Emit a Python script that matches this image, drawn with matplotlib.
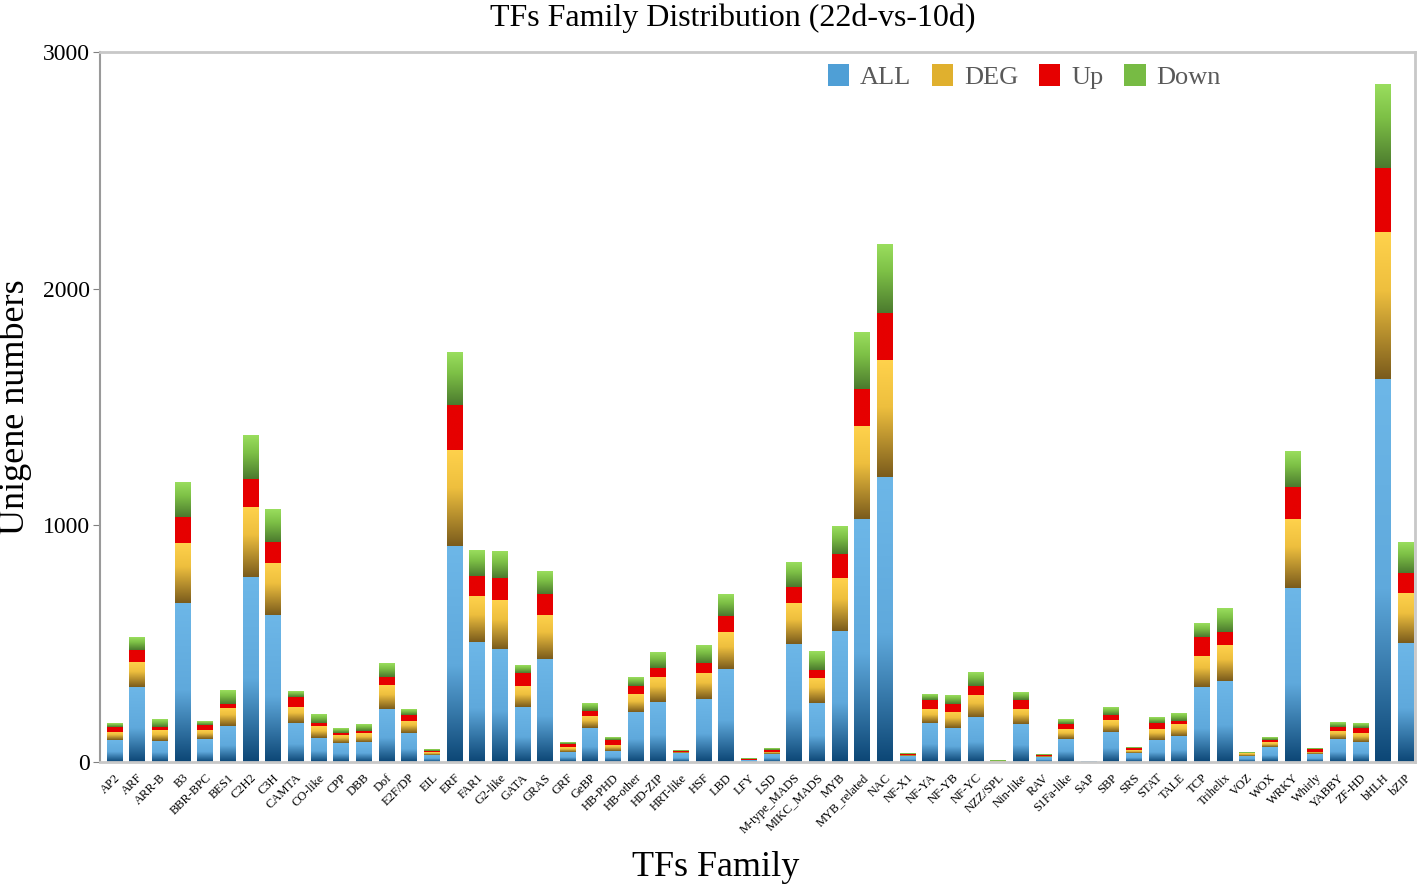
import numpy as np
import matplotlib
matplotlib.use("Agg")
from matplotlib import pyplot as plt
from matplotlib.colors import LinearSegmentedColormap
from matplotlib.patches import Patch

plt.rcParams['font.family'] = ['Liberation Serif', 'DejaVu Serif']

families = ["AP2", "ARF", "ARR-B", "B3", "BBR-BPC", "BES1", "C2H2", "C3H", "CAMTA", "CO-like",
            "CPP", "DBB", "Dof", "E2F/DP", "EIL", "ERF", "FAR1", "G2-like", "GATA", "GRAS",
            "GRF", "GeBP", "HB-PHD", "HB-other", "HD-ZIP", "HRT-like", "HSF", "LBD", "LFY", "LSD",
            "M-type_MADS", "MIKC_MADS", "MYB", "MYB_related", "NAC", "NF-X1", "NF-YA", "NF-YB", "NF-YC", "NZZ/SPL",
            "Nin-like", "RAV", "S1Fa-like", "SAP", "SBP", "SRS", "STAT", "TALE", "TCP", "Trihelix",
            "VOZ", "WOX", "WRKY", "Whirly", "YABBY", "ZF-HD", "bHLH", "bZIP"]

all_cnt = [93, 318, 90, 673, 96, 153, 783, 621, 166, 103,
           79, 83, 225, 121, 30, 912, 507, 479, 234, 435,
           44, 142, 46, 213, 255, 37, 265, 392, 7, 35,
           498, 248, 554, 1027, 1203, 25, 166, 145, 190, 2,
           159, 20, 99, 3, 127, 39, 92, 110, 316, 344,
           27, 62, 736, 32, 96, 84, 1618, 504]
deg_cnt = [35, 106, 45, 254, 39, 77, 296, 221, 68, 49,
           35, 38, 99, 52, 11, 406, 194, 205, 87, 186,
           18, 54, 26, 73, 106, 5, 112, 156, 3, 9,
           172, 109, 224, 392, 494, 5, 59, 68, 93, 1,
           66, 5, 39, 0, 50, 12, 49, 50, 132, 150,
           10, 21, 289, 12, 36, 40, 621, 211]
up_cnt = [21, 49, 14, 109, 21, 14, 118, 89, 42, 11,
          10, 10, 37, 26, 5, 190, 85, 95, 54, 89,
          14, 19, 21, 36, 37, 3, 40, 70, 1, 7,
          68, 32, 101, 159, 202, 4, 37, 31, 39, 0,
          37, 5, 24, 0, 20, 7, 25, 13, 79, 55,
          2, 10, 138, 11, 17, 18, 271, 85]
down_cnt = [14, 54, 31, 147, 16, 57, 182, 136, 25, 36,
            17, 28, 56, 24, 5, 220, 107, 110, 32, 97,
            6, 30, 10, 36, 64, 3, 73, 90, 2, 7,
            104, 79, 118, 240, 291, 3, 22, 35, 58, 1,
            31, 4, 21, 0, 31, 4, 25, 33, 55, 100,
            3, 11, 148, 3, 19, 19, 354, 129]

series = ["ALL", "DEG", "Up", "Down"]

cm_all = LinearSegmentedColormap.from_list("all", [(0, "#0c4675"), (0.45, "#5fa9dc"), (1, "#6db7e8")])
cm_deg = LinearSegmentedColormap.from_list("deg", [(0, "#7a5b1c"), (0.6, "#eebf3e"), (1, "#ffd24c")])
cm_up = LinearSegmentedColormap.from_list("up", ["#e60000", "#e60000"])
cm_down = LinearSegmentedColormap.from_list("down", [(0, "#4b7a2e"), (0.6, "#7dc046"), (1, "#9ade5e")])
cmaps = [cm_all, cm_deg, cm_up, cm_down]
legend_cols = ["#4f9fd6", "#e0b02e", "#e60000", "#77bb44"]

fig = plt.figure(figsize=(14.18, 8.85), dpi=100)
ax = fig.add_axes([0.0705, 0.139, 0.9275, 0.802])

x = np.arange(len(families))
w = 0.68
grad = np.linspace(0, 1, 256).reshape(-1, 1)
bottom = np.zeros(len(families))
for vals, cm in zip([all_cnt, deg_cnt, up_cnt, down_cnt], cmaps):
    bars = ax.bar(x, vals, w, bottom=bottom, color='none', edgecolor='none')
    for p in bars:
        x0, y0 = p.get_xy()
        h = p.get_height()
        if h <= 0:
            continue
        ax.imshow(grad, extent=[x0, x0 + p.get_width(), y0, y0 + h], origin='lower',
                  aspect='auto', cmap=cm, zorder=2, interpolation='bilinear')
    bottom += np.array(vals)

ax.set_xlim(-0.64, len(families) - 1 + 0.42)
ax.set_ylim(0, 3000)
ax.set_yticks([0, 1000, 2000, 3000])
ax.tick_params(axis='y', labelsize=17, length=5, color='#808080', pad=2)
ax.set_xticks(x)
ax.set_xticklabels(families, rotation=45, ha='right', rotation_mode='anchor', fontsize=9)
ax.tick_params(axis='x', length=0, pad=7)

for s in ['top', 'right', 'bottom']:
    ax.spines[s].set_color('#c8c8c8')
    ax.spines[s].set_linewidth(2)
ax.spines['left'].set_color('#9a9a9a')
ax.spines['left'].set_linewidth(1.5)

ax.set_title("TFs Family Distribution (22d-vs-10d)", fontsize=23, pad=19, x=0.481)
ax.set_ylabel("Unigene numbers", fontsize=26, labelpad=8)
ax.set_xlabel("TFs Family", fontsize=26, labelpad=11, x=0.468)

handles = [Patch(facecolor=c, edgecolor='none') for c in legend_cols]
leg = ax.legend(handles, series, loc='upper right', bbox_to_anchor=(0.87, 1.017), ncol=4,
                frameon=False, fontsize=19, handlelength=0.8, handleheight=0.9,
                handletextpad=0.4, columnspacing=0.8)
for t in leg.get_texts():
    t.set_color('#595959')

fig.savefig("out.png", dpi=100)
